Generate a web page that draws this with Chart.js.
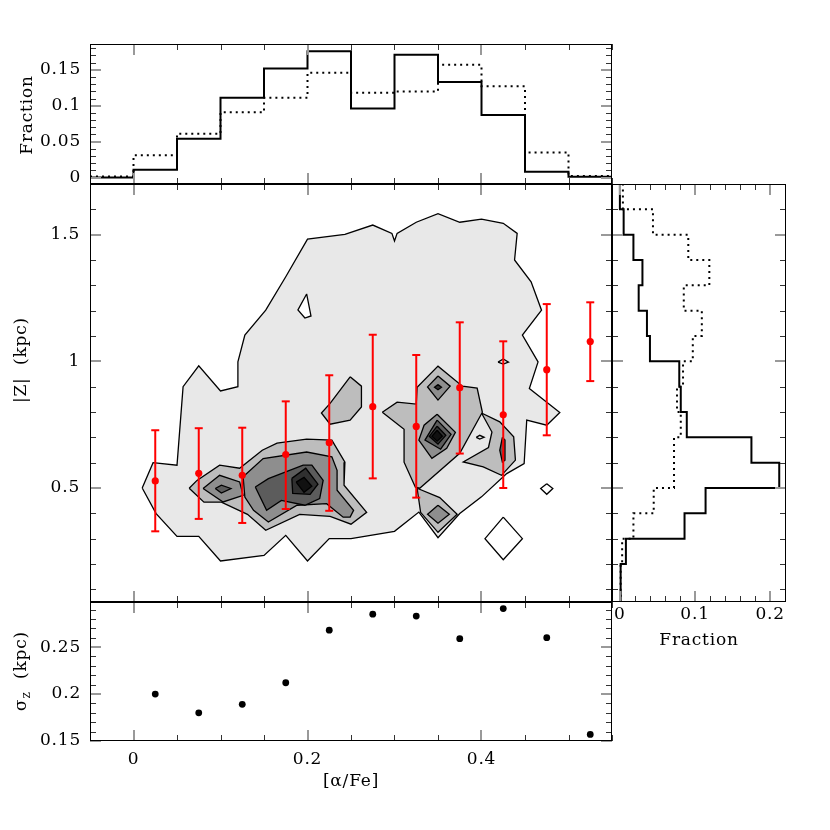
<!DOCTYPE html>
<html>
<head>
<meta charset="utf-8">
<script src="https://cdn.jsdelivr.net/npm/chart.js@4.4.1/dist/chart.umd.min.js"></script>
<style>
  html, body { margin: 0; padding: 0; background: #fff; }
  #wrap { position: relative; width: 830px; height: 830px; }
  #wrap canvas { position: absolute; left: 0; top: 0; }
</style>
</head>
<body>
<div id="wrap">
  <canvas id="cMain" width="830" height="830"></canvas>
  <canvas id="cTop" width="830" height="830"></canvas>
  <canvas id="cRight" width="830" height="830"></canvas>
  <canvas id="cBottom" width="830" height="830"></canvas>
</div>
<script>
"use strict";

// [alpha/Fe] histogram, bin edges (width 0.05) and fractions per bin
const alphaEdges = [-0.05, 0, 0.05, 0.1, 0.15, 0.2, 0.25, 0.3, 0.35, 0.4, 0.45, 0.5, 0.55];
const fracAlphaSolid = [0, 0.011, 0.054, 0.111, 0.152, 0.176, 0.096, 0.171, 0.133, 0.087, 0.008, 0.001];
const fracAlphaDotted = [0.0015, 0.031, 0.061, 0.091, 0.111, 0.146, 0.118, 0.12, 0.157, 0.127, 0.035, 0.002];

// |Z| histogram, bin edges (width 0.1) and fractions per bin, bottom to top
const zEdges = [0, 0.1, 0.2, 0.3, 0.4, 0.5, 0.6, 0.7, 0.8, 0.9, 1.0, 1.1, 1.2, 1.3, 1.4, 1.5, 1.6, 1.7];
const fracZSolid = [0.001, 0.001, 0.008, 0.086, 0.114, 0.212, 0.175, 0.089, 0.081, 0.079, 0.04, 0.036, 0.025, 0.03, 0.018, 0.005, 0];
const fracZDotted = [0.001, 0.001, 0.003, 0.018, 0.045, 0.072, 0.072, 0.081, 0.076, 0.084, 0.097, 0.109, 0.085, 0.119, 0.091, 0.044, 0.004];

// binned mean |Z| with spread, and sigma_z per [alpha/Fe] bin
const alphaMid = [0.025, 0.075, 0.125, 0.175, 0.225, 0.275, 0.325, 0.375, 0.425, 0.475, 0.525];
const zMean = [0.528, 0.558, 0.55, 0.632, 0.679, 0.821, 0.743, 0.896, 0.789, 0.967, 1.078];
const zLow = [0.329, 0.378, 0.362, 0.417, 0.41, 0.538, 0.462, 0.636, 0.5, 0.708, 0.922];
const zHigh = [0.728, 0.736, 0.738, 0.842, 0.945, 1.105, 1.025, 1.154, 1.079, 1.226, 1.233];
const sigmaZ = [0.2, 0.18, 0.189, 0.212, 0.268, 0.285, 0.283, 0.259, 0.291, 0.26, 0.157];

// density contours, [alpha/Fe, |Z|] vertices
const contourOuter = [[0.01,0.5],[0.0225,0.6],[0.05,0.59],[0.057,0.9],[0.075,0.982],[0.1,0.883],[0.12,0.9],[0.12,0.998],[0.128,1.104],[0.152,1.202],[0.175,1.334],[0.2,1.482],[0.243,1.501],[0.275,1.538],[0.297,1.505],[0.3,1.475],[0.303,1.505],[0.325,1.549],[0.35,1.583],[0.375,1.549],[0.4,1.561],[0.425,1.545],[0.441,1.505],[0.438,1.4],[0.457,1.314],[0.469,1.202],[0.447,1.104],[0.465,0.998],[0.455,0.893],[0.49,0.798],[0.475,0.748],[0.452,0.768],[0.449,0.596],[0.429,0.557],[0.4,0.465],[0.375,0.399],[0.35,0.304],[0.328,0.405],[0.3,0.329],[0.25,0.3],[0.225,0.3],[0.2,0.212],[0.175,0.313],[0.15,0.234],[0.1,0.212],[0.075,0.309],[0.05,0.309],[0.026,0.399]];
const contourHole = [[0.199,1.266],[0.204,1.179],[0.197,1.171],[0.189,1.203]];
const leftL2 = [[0.064,0.499],[0.073,0.53],[0.099,0.59],[0.122,0.578],[0.148,0.649],[0.165,0.677],[0.199,0.693],[0.228,0.689],[0.243,0.602],[0.242,0.511],[0.268,0.404],[0.25,0.357],[0.226,0.388],[0.191,0.396],[0.152,0.333],[0.131,0.396],[0.101,0.444],[0.081,0.444]];
const leftSmallL3 = [[0.08,0.498],[0.099,0.55],[0.122,0.524],[0.126,0.471],[0.103,0.445]];
const leftSmallL4 = [[0.094,0.498],[0.101,0.511],[0.112,0.498],[0.101,0.48]];
const leftBigL3 = [[0.126,0.544],[0.149,0.616],[0.199,0.642],[0.228,0.623],[0.234,0.57],[0.234,0.491],[0.253,0.412],[0.249,0.385],[0.241,0.385],[0.222,0.438],[0.188,0.432],[0.155,0.366],[0.138,0.412],[0.128,0.464]];
const leftBigL4 = [[0.14,0.504],[0.155,0.537],[0.195,0.59],[0.205,0.59],[0.218,0.53],[0.214,0.458],[0.197,0.432],[0.17,0.451],[0.153,0.412]];
const leftBigL5 = [[0.182,0.538],[0.198,0.578],[0.212,0.515],[0.203,0.475],[0.183,0.479]];
const leftBigL6 = [[0.187,0.523],[0.196,0.542],[0.205,0.507],[0.196,0.483]];
const midL2 = [[0.249,0.939],[0.262,0.902],[0.262,0.82],[0.249,0.768],[0.226,0.752],[0.216,0.796],[0.226,0.834]];
const rightL2 = [[0.286,0.799],[0.303,0.839],[0.325,0.831],[0.326,0.898],[0.35,0.981],[0.378,0.902],[0.395,0.894],[0.401,0.799],[0.375,0.637],[0.329,0.499],[0.324,0.503],[0.311,0.602],[0.311,0.732]];
const rightLowL2 = [[0.326,0.499],[0.352,0.462],[0.372,0.396],[0.35,0.325],[0.33,0.404]];
const rightLowL3 = [[0.35,0.432],[0.363,0.396],[0.35,0.361],[0.338,0.396]];
const rightTopL3 = [[0.35,0.942],[0.364,0.902],[0.35,0.847],[0.338,0.899]];
const rightTopL4 = [[0.35,0.908],[0.354,0.898],[0.35,0.888],[0.346,0.898]];
const blobL3 = [[0.349,0.791],[0.37,0.72],[0.36,0.657],[0.343,0.617],[0.328,0.689],[0.334,0.748]];
const blobL4 = [[0.349,0.768],[0.365,0.712],[0.353,0.653],[0.335,0.689]];
const blobL5 = [[0.349,0.744],[0.359,0.708],[0.35,0.673],[0.34,0.704]];
const blobL6 = [[0.349,0.728],[0.355,0.704],[0.349,0.685],[0.343,0.704]];
const farL2 = [[0.4,0.796],[0.421,0.761],[0.437,0.702],[0.439,0.61],[0.423,0.55],[0.402,0.583],[0.379,0.603],[0.408,0.66],[0.412,0.721]];
const farBarL3 = [[0.424,0.7],[0.427,0.689],[0.427,0.61],[0.424,0.602],[0.421,0.649]];
const ovalA = [[0.394,0.7],[0.398,0.708],[0.403,0.7],[0.398,0.693]];
const ovalB = [[0.419,0.997],[0.425,1.009],[0.431,0.997],[0.425,0.989]];
const smallDiamond = [[0.475,0.517],[0.482,0.498],[0.475,0.475],[0.468,0.498]];
const bigDiamond = [[0.425,0.385],[0.447,0.3],[0.425,0.217],[0.404,0.3]];

// tick labels
const alphaTicks = [0, 0.2, 0.4];
const zTicks = [0.5, 1, 1.5];
const fracTopTicks = [0, 0.05, 0.1, 0.15];
const fracRightTicks = [0, 0.1, 0.2];
const sigmaTicks = [0.15, 0.2, 0.25];

const FONT = '"DejaVu Serif", "Liberation Serif", serif';
Chart.defaults.font.family = FONT;
Chart.defaults.font.size = 17;
Chart.defaults.color = "#000";

const C1 = "#e8e8e8", C2 = "#bdbdbd", C3 = "#8e8e8e", C4 = "#5c5c5c", C5 = "#303030", C6 = "#111111";

function poly(pts, color, order) {
  return {
    data: pts.concat([pts[0]]).map(function (p) { return { x: p[0], y: p[1] }; }),
    showLine: true,
    fill: color ? "shape" : false,
    backgroundColor: color || "rgba(0,0,0,0)",
    borderColor: "#000",
    borderWidth: 1.3,
    pointRadius: 0,
    order: order,
  };
}

function minorValues(min, max, step) {
  const out = [];
  for (let k = Math.ceil(min / step - 1e-6); k * step <= max + 1e-9; k++) out.push(k * step);
  return out;
}

// wider letter spacing, closer to the plotting font of the original
const spacing = {
  id: "spacing",
  beforeDraw(chart) { chart.ctx.letterSpacing = "0.8px"; },
};

// frame round the plot area and inward tick marks on all four sides
function frameTicks(xMajor, xStep, yMajor, yStep) {
  return {
    id: "frameTicks",
    afterDraw(chart) {
      const ctx = chart.ctx;
      const a = chart.chartArea;
      const sx = chart.scales.x, sy = chart.scales.y;
      const isMajor = (v, list) => list.some((m) => Math.abs(m - v) < 1e-6);
      ctx.save();
      minorValues(sx.min, sx.max, xStep).forEach(function (v) {
        const px = Math.round(sx.getPixelForValue(v));
        const maj = isMajor(v, xMajor);
        ctx.strokeStyle = maj ? "#999" : "#333";
        ctx.lineWidth = maj ? 2 : 1;
        const x = maj ? px : px + 0.5;
        const len = maj ? 11 : 6;
        ctx.beginPath();
        ctx.moveTo(x, a.top); ctx.lineTo(x, a.top + len);
        ctx.moveTo(x, a.bottom); ctx.lineTo(x, a.bottom - len);
        ctx.stroke();
      });
      minorValues(sy.min, sy.max, yStep).forEach(function (v) {
        const py = Math.round(sy.getPixelForValue(v));
        const maj = isMajor(v, yMajor);
        ctx.strokeStyle = maj ? "#999" : "#333";
        ctx.lineWidth = maj ? 2 : 1;
        const y = maj ? py : py + 0.5;
        const len = maj ? 11 : 6;
        ctx.beginPath();
        ctx.moveTo(a.left, y); ctx.lineTo(a.left + len, y);
        ctx.moveTo(a.right, y); ctx.lineTo(a.right - len, y);
        ctx.stroke();
      });
      ctx.strokeStyle = "#000";
      ctx.lineWidth = 1;
      ctx.strokeRect(Math.round(a.left) + 0.5, Math.round(a.top) + 0.5,
        Math.round(a.right - a.left) - 1, Math.round(a.bottom - a.top) - 1);
      ctx.restore();
    },
  };
}

// rotated axis title on the left, parts allow a subscript
function leftTitle(parts, cx, cy) {
  return {
    id: "leftTitle",
    afterDraw(chart) {
      const ctx = chart.ctx;
      ctx.save();
      ctx.translate(cx, cy);
      ctx.rotate(-Math.PI / 2);
      ctx.fillStyle = "#000";
      ctx.textBaseline = "middle";
      ctx.textAlign = "left";
      let total = 0;
      parts.forEach(function (p) {
        ctx.font = p.size + "px " + FONT;
        p.w = ctx.measureText(p.text).width;
        total += p.w;
      });
      let x = -total / 2;
      parts.forEach(function (p) {
        ctx.font = p.size + "px " + FONT;
        ctx.fillText(p.text, x, p.dy || 0);
        x += p.w;
      });
      ctx.restore();
    },
  };
}

function linAxis(min, max, ticks, extra) {
  return Object.assign({
    type: "linear",
    min: min,
    max: max,
    grid: { display: false, drawTicks: false },
    border: { display: false },
    afterBuildTicks: function (s) { s.ticks = ticks.map(function (v) { return { value: v }; }); },
    ticks: { callback: function (v) { return String(v); }, padding: 9 },
  }, extra || {});
}

const baseOpts = {
  responsive: false,
  animation: false,
  devicePixelRatio: 1,
  events: [],
  plugins: { legend: { display: false }, tooltip: { enabled: false } },
};

// main panel: contours and binned |Z|
function mainChart() {
  const datasets = [
    poly(contourOuter, C1, 100),
    poly(contourHole, "#ffffff", 95),
    poly(leftL2, C2, 90), poly(midL2, C2, 90), poly(rightL2, C2, 90),
    poly(rightLowL2, C2, 90), poly(farL2, C2, 90),
    poly(leftSmallL3, C3, 80), poly(leftBigL3, C3, 80), poly(rightLowL3, C3, 80),
    poly(rightTopL3, C3, 80), poly(blobL3, C3, 80), poly(farBarL3, C4, 80),
    poly(leftSmallL4, C4, 70), poly(leftBigL4, C4, 70), poly(blobL4, C4, 70), poly(rightTopL4, C5, 70),
    poly(leftBigL5, C5, 60), poly(blobL5, C5, 60),
    poly(leftBigL6, C6, 50), poly(blobL6, C6, 50),
    poly(ovalA, null, 45), poly(ovalB, null, 45), poly(smallDiamond, null, 45), poly(bigDiamond, null, 45),
  ];
  alphaMid.forEach(function (a, i) {
    datasets.push({
      data: [{ x: a, y: zLow[i] }, { x: a, y: zHigh[i] }],
      showLine: true,
      borderColor: "#ff0000",
      borderWidth: 2,
      pointStyle: "line",
      pointRadius: 4,
      pointBorderColor: "#ff0000",
      pointBorderWidth: 2,
      order: 20,
    });
  });
  datasets.push({
    data: alphaMid.map(function (a, i) { return { x: a, y: zMean[i] }; }),
    showLine: false,
    pointRadius: 3.6,
    pointBackgroundColor: "#ff0000",
    pointBorderWidth: 0,
    order: 10,
  });
  new Chart(document.getElementById("cMain"), {
    type: "scatter",
    data: { datasets: datasets },
    options: Object.assign({}, baseOpts, {
      layout: { padding: { left: 0, right: 218, top: 184, bottom: 228 } },
      scales: {
        x: linAxis(-0.05, 0.55, alphaTicks, { display: false }),
        y: linAxis(0.05, 1.7, zTicks, {
          afterFit: function (s) { s.width = 90; },
          ticks: { callback: function (v) { return String(v); }, padding: 10 },
        }),
      },
    }),
    plugins: [spacing, frameTicks(alphaTicks, 0.05, zTicks, 0.1),
      leftTitle([{ text: "|Z|  (kpc)", size: 17 }], 22, 360)],
  });
}

// top panel: [alpha/Fe] histograms
function topChart() {
  const solid = alphaEdges.map(function (e, i) { return { x: e, y: fracAlphaSolid[Math.min(i, fracAlphaSolid.length - 1)] }; });
  const dotted = alphaEdges.map(function (e, i) { return { x: e, y: fracAlphaDotted[Math.min(i, fracAlphaDotted.length - 1)] }; });
  new Chart(document.getElementById("cTop"), {
    type: "scatter",
    data: {
      datasets: [
        { data: solid, showLine: true, stepped: true, borderColor: "#000", borderWidth: 2, pointRadius: 0, order: 1 },
        { data: dotted, showLine: true, stepped: true, borderColor: "#000", borderWidth: 2, borderDash: [2, 4], pointRadius: 0, order: 2 },
      ],
    },
    options: Object.assign({}, baseOpts, {
      layout: { padding: { left: 0, right: 218, top: 44, bottom: 646 } },
      scales: {
        x: linAxis(-0.05, 0.55, alphaTicks, { display: false }),
        y: linAxis(-0.009, 0.186, fracTopTicks, { afterFit: function (s) { s.width = 90; } }),
      },
    }),
    plugins: [spacing, frameTicks(alphaTicks, 0.05, fracTopTicks, 0.01),
      leftTitle([{ text: "Fraction", size: 17 }], 28, 115)],
  });
}

// right panel: |Z| histograms, drawn sideways
function rightChart() {
  const solid = zEdges.map(function (z, i) { return { x: fracZSolid[Math.min(i, fracZSolid.length - 1)], y: z }; });
  const dotted = zEdges.map(function (z, i) { return { x: fracZDotted[Math.min(i, fracZDotted.length - 1)], y: z }; });
  new Chart(document.getElementById("cRight"), {
    type: "scatter",
    data: {
      datasets: [
        { data: solid, showLine: true, stepped: "after", borderColor: "#000", borderWidth: 2, pointRadius: 0, order: 1 },
        { data: dotted, showLine: true, stepped: "after", borderColor: "#000", borderWidth: 2, borderDash: [2, 4], pointRadius: 0, order: 2 },
      ],
    },
    options: Object.assign({}, baseOpts, {
      layout: { padding: { left: 612, right: 44, top: 184, bottom: 175 } },
      scales: {
        x: linAxis(-0.0105, 0.221, fracRightTicks, {
          afterFit: function (s) { s.height = 53; },
          ticks: { callback: function (v) { return String(v); }, padding: 2 },
          title: { display: true, text: "Fraction", font: { size: 17 }, padding: { top: 0, bottom: 4 } },
        }),
        y: linAxis(0.05, 1.7, zTicks, { display: false }),
      },
    }),
    plugins: [spacing, frameTicks(fracRightTicks, 0.02, zTicks, 0.1)],
  });
}

// bottom panel: sigma_z per bin
function bottomChart() {
  new Chart(document.getElementById("cBottom"), {
    type: "scatter",
    data: {
      datasets: [{
        data: alphaMid.map(function (a, i) { return { x: a, y: sigmaZ[i] }; }),
        pointRadius: 3.4,
        pointBackgroundColor: "#000",
        pointBorderWidth: 0,
      }],
    },
    options: Object.assign({}, baseOpts, {
      layout: { padding: { left: 0, right: 218, top: 602, bottom: 34 } },
      scales: {
        x: linAxis(-0.05, 0.55, alphaTicks, {
          afterFit: function (s) { s.height = 55; },
          ticks: { callback: function (v) { return String(v); }, padding: 8 },
          title: { display: true, text: "[α/Fe]", font: { size: 17 }, padding: { top: 0, bottom: 4 } },
        }),
        y: linAxis(0.15, 0.298, sigmaTicks, { afterFit: function (s) { s.width = 90; } }),
      },
    }),
    plugins: [spacing, frameTicks(alphaTicks, 0.05, sigmaTicks, 0.01),
      leftTitle([{ text: "σ", size: 17 }, { text: "z", size: 12, dy: 5 }, { text: "  (kpc)", size: 17 }], 22, 671)],
  });
}

mainChart();
topChart();
rightChart();
bottomChart();
</script>
</body>
</html>
